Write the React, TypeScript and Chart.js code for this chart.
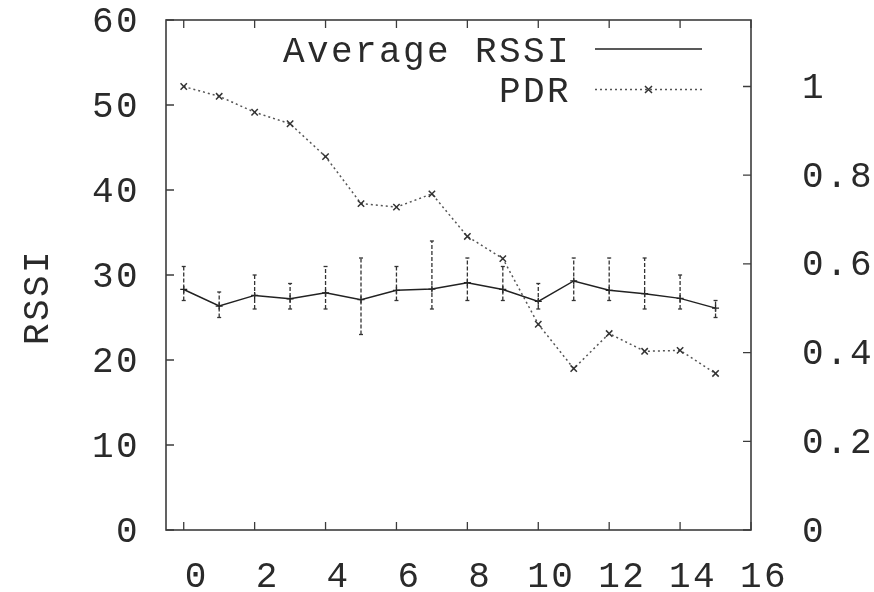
import React, { useEffect, useRef } from "react";
import { Chart, registerables } from "chart.js";

Chart.register(...registerables);

// ---- data ----
const xValues = [0, 1, 2, 3, 4, 5, 6, 7, 8, 9, 10, 11, 12, 13, 14, 15];
const rssiMean = [28.3, 26.35, 27.6, 27.2, 27.9, 27.1, 28.2, 28.35, 29.1, 28.3, 26.9, 29.3, 28.2, 27.8, 27.25, 26.1];
const rssiLow = [27, 25, 26, 26, 26, 23, 27, 26, 27, 27, 26, 27, 27, 26, 26, 25];
const rssiHigh = [31, 28, 30, 29, 31, 32, 31, 34, 32, 31, 29, 32, 32, 32, 30, 27];
const pdr = [1.0, 0.978, 0.942, 0.916, 0.842, 0.736, 0.728, 0.758, 0.662, 0.612, 0.464, 0.364, 0.443, 0.403, 0.405, 0.353];
const xTicks = [0, 2, 4, 6, 8, 10, 12, 14, 16];
const yTicks = [0, 10, 20, 30, 40, 50, 60];
const y2Ticks = [0, 0.2, 0.4, 0.6, 0.8, 1];
const yTitle = "RSSI";
const seriesLabels = ["Average RSSI", "PDR"];

const FONT_FAMILY = '"Liberation Mono", "Courier New", monospace';
const FONT_SIZE = 36;
const LETTER = "2.4px";
const TEXT = "#2a2a2a";
const AXIS = "#3c3c3c";

const decorPlugin = {
  id: "gnuplotDecor",
  beforeDraw(chart: any) {
    (chart.ctx as any).letterSpacing = LETTER;
  },
  afterDatasetsDraw(chart: any) {
    const ctx = chart.ctx;
    const xs = chart.scales.x;
    const ys = chart.scales.y;
    // error bars
    ctx.save();
    ctx.strokeStyle = "#333";
    ctx.lineWidth = 1.3;
    ctx.setLineDash([4, 2]);
    xValues.forEach((xv, i) => {
      const px = xs.getPixelForValue(xv);
      const lo = ys.getPixelForValue(rssiLow[i]);
      const hi = ys.getPixelForValue(rssiHigh[i]);
      ctx.beginPath();
      ctx.moveTo(px, lo);
      ctx.lineTo(px, hi);
      ctx.stroke();
    });
    ctx.setLineDash([]);
    xValues.forEach((xv, i) => {
      const px = xs.getPixelForValue(xv);
      [rssiLow[i], rssiHigh[i]].forEach((v) => {
        const py = ys.getPixelForValue(v);
        ctx.beginPath();
        ctx.moveTo(px - 2, py);
        ctx.lineTo(px + 2, py);
        ctx.stroke();
      });
    });
    ctx.restore();
  },
  afterDraw(chart: any) {
    const ctx = chart.ctx;
    const a = chart.chartArea;
    const xs = chart.scales.x;
    const ys = chart.scales.y;
    const y2 = chart.scales.y2;
    const TL = 8;
    ctx.save();
    ctx.strokeStyle = AXIS;
    ctx.lineWidth = 1.6;
    ctx.strokeRect(a.left, a.top, a.right - a.left, a.bottom - a.top);
    ctx.lineWidth = 1.3;
    ctx.beginPath();
    xTicks.forEach((v) => {
      const px = xs.getPixelForValue(v);
      ctx.moveTo(px, a.bottom);
      ctx.lineTo(px, a.bottom - TL);
      ctx.moveTo(px, a.top);
      ctx.lineTo(px, a.top + TL);
    });
    yTicks.forEach((v) => {
      const py = ys.getPixelForValue(v);
      ctx.moveTo(a.left, py);
      ctx.lineTo(a.left + TL, py);
    });
    y2Ticks.forEach((v) => {
      const py = y2.getPixelForValue(v);
      ctx.moveTo(a.right, py);
      ctx.lineTo(a.right - TL, py);
    });
    ctx.stroke();

    ctx.letterSpacing = LETTER;
    // y title
    ctx.fillStyle = TEXT;
    ctx.font = `${FONT_SIZE}px ${FONT_FAMILY}`;
    ctx.save();
    ctx.translate(48, 297);
    ctx.rotate(-Math.PI / 2);
    ctx.textAlign = "center";
    ctx.textBaseline = "alphabetic";
    ctx.fillText(yTitle, 0, 0);
    ctx.restore();

    // legend
    const textRight = 571;
    const sx0 = 595;
    const sx1 = 702;
    ctx.textAlign = "right";
    ctx.textBaseline = "alphabetic";
    ctx.fillText(seriesLabels[0], textRight, 62);
    ctx.fillText(seriesLabels[1], textRight, 102);
    ctx.strokeStyle = "#222";
    ctx.lineWidth = 1.5;
    ctx.beginPath();
    ctx.moveTo(sx0, 49);
    ctx.lineTo(sx1, 49);
    ctx.stroke();
    ctx.strokeStyle = "#555";
    ctx.setLineDash([2, 3]);
    ctx.beginPath();
    ctx.moveTo(sx0, 89.5);
    ctx.lineTo(sx1, 89.5);
    ctx.stroke();
    ctx.setLineDash([]);
    const mx = (sx0 + sx1) / 2;
    ctx.strokeStyle = "#333";
    ctx.beginPath();
    ctx.moveTo(mx - 3.5, 86);
    ctx.lineTo(mx + 3.5, 93);
    ctx.moveTo(mx - 3.5, 93);
    ctx.lineTo(mx + 3.5, 86);
    ctx.stroke();
    ctx.restore();
  },
};

function zeroPad(s: any) {
  s.paddingTop = 0;
  s.paddingBottom = 0;
  s.paddingLeft = 0;
  s.paddingRight = 0;
}

export default function App() {
  const ref = useRef<HTMLCanvasElement | null>(null);
  useEffect(() => {
    if (!ref.current) return;
    const font = { family: FONT_FAMILY, size: FONT_SIZE, lineHeight: 1.2 };
    const chart = new Chart(ref.current, {
      type: "line",
      data: {
        datasets: [
          {
            label: seriesLabels[0],
            data: xValues.map((x, i) => ({ x, y: rssiMean[i] })),
            yAxisID: "y",
            borderColor: "#222",
            borderWidth: 1.5,
            pointStyle: "cross",
            pointRadius: 3.5,
            pointBorderColor: "#222",
            pointBorderWidth: 1.3,
            tension: 0,
            fill: false,
          },
          {
            label: seriesLabels[1],
            data: xValues.map((x, i) => ({ x, y: pdr[i] })),
            yAxisID: "y2",
            borderColor: "#555",
            borderWidth: 1.5,
            borderDash: [2, 3],
            pointStyle: "crossRot",
            pointRadius: 4.5,
            pointBorderColor: "#333",
            pointBorderWidth: 1.5,
            tension: 0,
            fill: false,
          },
        ],
      },
      options: {
        responsive: false,
        animation: false,
        layout: { padding: { top: 20, left: 0, right: 0, bottom: 0 } },
        plugins: { legend: { display: false }, tooltip: { enabled: false } },
        scales: {
          x: {
            type: "linear",
            min: -0.5,
            max: 16,
            afterBuildTicks: (s: any) => {
              s.ticks = xTicks.map((v) => ({ value: v }));
            },
            afterFit: (s: any) => {
              s.height = 62;
              zeroPad(s);
            },
            grid: { display: false, drawTicks: false },
            border: { display: false },
            ticks: {
              font,
              color: TEXT,
              padding: 26,
              labelOffset: 13,
              maxRotation: 0,
              autoSkip: false,
            },
          },
          y: {
            type: "linear",
            position: "left",
            min: 0,
            max: 60,
            afterBuildTicks: (s: any) => {
              s.ticks = yTicks.map((v) => ({ value: v }));
            },
            afterFit: (s: any) => {
              s.width = 166;
              zeroPad(s);
            },
            grid: { display: false, drawTicks: false },
            border: { display: false },
            ticks: { font, color: TEXT, padding: 26, labelOffset: 2, autoSkip: false },
          },
          y2: {
            type: "linear",
            position: "right",
            min: 0,
            max: 1.15,
            afterBuildTicks: (s: any) => {
              s.ticks = y2Ticks.map((v) => ({ value: v }));
            },
            afterFit: (s: any) => {
              s.width = 123;
              zeroPad(s);
            },
            grid: { display: false, drawTicks: false },
            border: { display: false },
            ticks: {
              font,
              color: TEXT,
              padding: 51,
              labelOffset: 2,
              autoSkip: false,
              callback: (v: any) => String(Math.round(v * 10) / 10),
            },
          },
        },
      },
      plugins: [decorPlugin],
    } as any);
    return () => chart.destroy();
  }, []);
  return (
    <div style={{ position: "absolute", left: 0, top: 0, width: 874, height: 592, background: "#fff" }}>
      <canvas ref={ref} width={874} height={592} style={{ width: 874, height: 592, display: "block" }} />
    </div>
  );
}
